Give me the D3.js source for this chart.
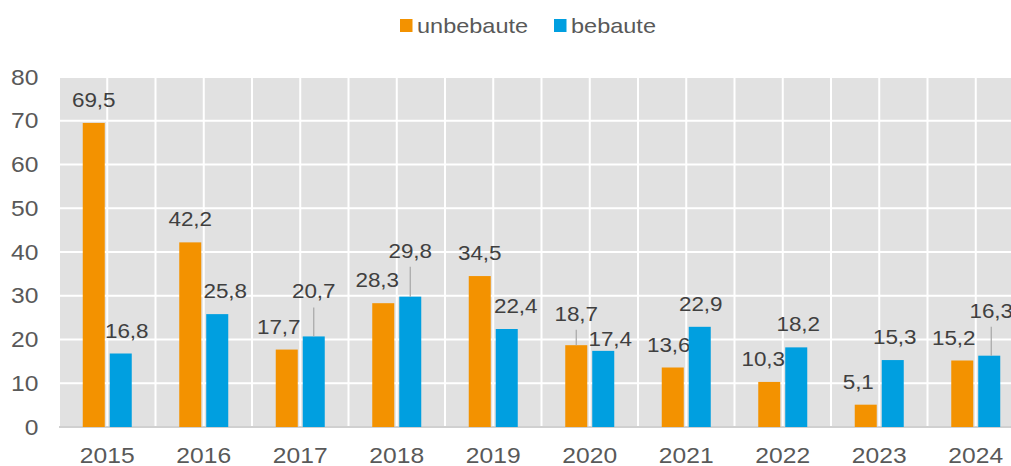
<!DOCTYPE html>
<html>
<head>
    <meta charset="utf-8">
    <title>unbebaute / bebaute</title>
    <script src="https://cdn.jsdelivr.net/npm/d3@7/dist/d3.min.js"></script>
    <style>
        body { margin: 0; background: #fff; }
        svg { display: block; font-family: "Liberation Sans", Arial, sans-serif; }
    </style>
</head>
<body>
<svg></svg>
<script>
    // chart data
    var years = ['2015', '2016', '2017', '2018', '2019', '2020', '2021', '2022', '2023', '2024'];
    var seriesNames = ['unbebaute', 'bebaute'];
    var unbebaute = [69.5, 42.2, 17.7, 28.3, 34.5, 18.7, 13.6, 10.3, 5.1, 15.2];
    var bebaute = [16.8, 25.8, 20.7, 29.8, 22.4, 17.4, 22.9, 18.2, 15.3, 16.3];
    var yTicks = [0, 10, 20, 30, 40, 50, 60, 70, 80];

    // label nudges (layout only), [dx, dy] per bar
    var nudgeUnbebaute = [[0, 0], [0, 0], [-8, 0], [-6, 0], [0, 0], [0, -8.5], [-4, 0], [-6, 0], [-7.5, 0], [-8.5, 0]];
    var nudgeBebaute = [[6, 0], [8, 0], [0, -22], [0, -23], [9, 0], [7, 11], [1, 0], [2, 0], [2, 0], [2, -22]];

    var w = 1011, h = 466;
    var colors = { unbebaute: '#f39200', bebaute: '#009fe0' };

    var svg = d3.select('svg').attr('width', w).attr('height', h);

    var x = d3.scaleBand().domain(years).range([59, 1024]).padding(0);
    var bw = x.bandwidth();
    var x1 = d3.scaleBand().domain(seriesNames)
        .range([bw / 2 - 24.5, bw / 2 + 24.5]).paddingInner(0.185);
    var y = d3.scaleLinear().domain([0, 80]).range([427, 77]);

    var fmt = d3.formatLocale({ decimal: ',', thousands: '.', grouping: [3], currency: ['', ''] }).format('.1f');

    // plot background
    svg.append('rect')
        .attr('x', x.range()[0]).attr('y', y(80))
        .attr('width', x.range()[1] - x.range()[0]).attr('height', y(0) - y(80))
        .attr('fill', '#e1e1e1');

    // horizontal gridlines
    svg.append('g').selectAll('line')
        .data(yTicks.slice(1))
        .enter().append('line')
        .attr('x1', x.range()[0]).attr('x2', x.range()[1])
        .attr('y1', function(d) { return y(d); })
        .attr('y2', function(d) { return y(d); })
        .attr('stroke', '#fff').attr('stroke-width', 2);

    // vertical gridlines every half category
    var vlines = [];
    years.forEach(function(d) { vlines.push(x(d)); vlines.push(x(d) + bw / 2); });
    vlines.push(x.range()[1]);
    svg.append('g').selectAll('line')
        .data(vlines)
        .enter().append('line')
        .attr('x1', function(d) { return d; }).attr('x2', function(d) { return d; })
        .attr('y1', y(80)).attr('y2', y(0))
        .attr('stroke', '#fff').attr('stroke-width', 2);

    // baseline
    svg.append('line')
        .attr('x1', x.range()[0]).attr('x2', x.range()[1])
        .attr('y1', y(0)).attr('y2', y(0))
        .attr('stroke', '#d0d0d0').attr('stroke-width', 2);

    // bars + labels
    var series = [
        { name: 'unbebaute', values: unbebaute, nudge: nudgeUnbebaute },
        { name: 'bebaute', values: bebaute, nudge: nudgeBebaute }
    ];

    series.forEach(function(s) {
        var rows = years.map(function(yr, i) {
            return { year: yr, value: s.values[i], nudge: s.nudge[i] };
        });
        var g = svg.append('g');

        g.selectAll('rect')
            .data(rows)
            .enter().append('rect')
            .attr('x', function(d) { return x(d.year) + x1(s.name); })
            .attr('width', x1.bandwidth())
            .attr('y', function(d) { return y(d.value); })
            .attr('height', function(d) { return y(0) - y(d.value); })
            .attr('fill', colors[s.name]);

        // leader lines for labels pushed away from the bar
        g.selectAll('line')
            .data(rows.filter(function(d) { return d.nudge[1] < -5; }))
            .enter().append('line')
            .attr('x1', function(d) { return x(d.year) + x1(s.name) + x1.bandwidth() / 2 + d.nudge[0]; })
            .attr('x2', function(d) { return x(d.year) + x1(s.name) + x1.bandwidth() / 2 + d.nudge[0]; })
            .attr('y1', function(d) { return y(d.value) - 16 + d.nudge[1] + 9; })
            .attr('y2', function(d) { return y(d.value); })
            .attr('stroke', '#a6a6a6').attr('stroke-width', 1.2);

        g.selectAll('text')
            .data(rows)
            .enter().append('text')
            .attr('transform', function(d) {
                var cx = x(d.year) + x1(s.name) + x1.bandwidth() / 2 + d.nudge[0];
                var cy = y(d.value) - 16 + d.nudge[1];
                return 'translate(' + cx + ',' + cy + ') scale(1.07,1)';
            })
            .attr('text-anchor', 'middle')
            .attr('font-size', 21)
            .attr('fill', '#404040')
            .text(function(d) { return fmt(d.value); });
    });

    // y axis labels
    svg.append('g').selectAll('text')
        .data(yTicks)
        .enter().append('text')
        .attr('transform', function(d) { return 'translate(38.5,' + (y(d) + 7.5) + ') scale(1.12,1)'; })
        .attr('text-anchor', 'end')
        .attr('font-size', 22)
        .attr('fill', '#595959')
        .text(function(d) { return d; });

    // x axis labels
    svg.append('g').selectAll('text')
        .data(years)
        .enter().append('text')
        .attr('transform', function(d) { return 'translate(' + (x(d) + bw / 2) + ',463) scale(1.12,1)'; })
        .attr('text-anchor', 'middle')
        .attr('font-size', 22)
        .attr('fill', '#595959')
        .text(function(d) { return d; });

    // legend
    var legendX = [400, 554];
    var legend = svg.append('g').selectAll('g')
        .data(seriesNames)
        .enter().append('g')
        .attr('transform', function(d, i) { return 'translate(' + legendX[i] + ',19)'; });
    legend.append('rect')
        .attr('width', 12.5).attr('height', 13)
        .attr('fill', function(d) { return colors[d]; });
    legend.append('text')
        .attr('transform', 'translate(17,14.3) scale(1.12,1)')
        .attr('font-size', 21)
        .attr('fill', '#595959')
        .text(function(d) { return d; });
</script>
</body>
</html>
